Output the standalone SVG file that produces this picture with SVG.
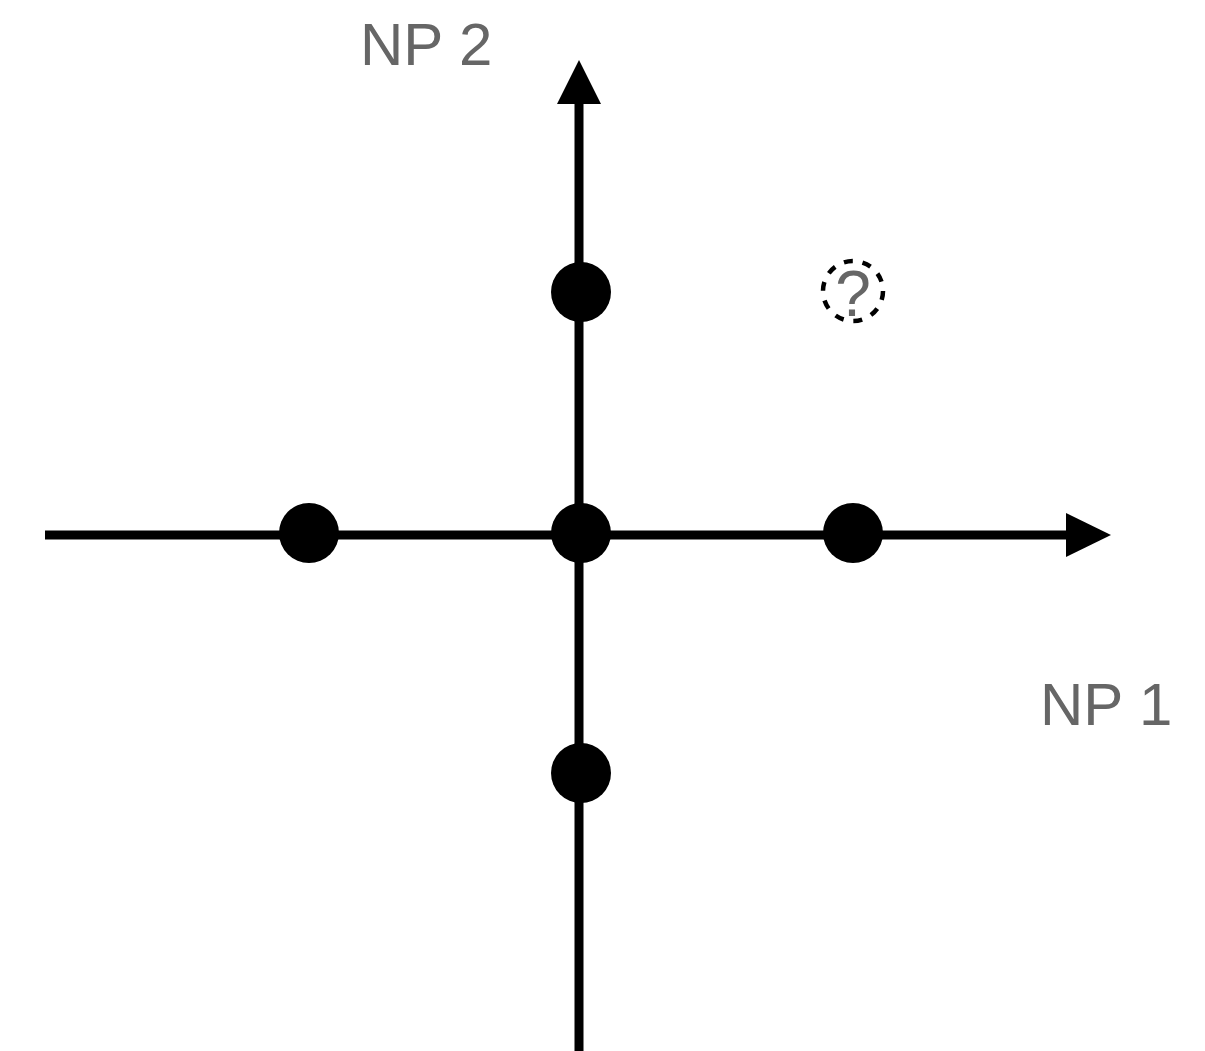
<svg xmlns="http://www.w3.org/2000/svg" width="1205" height="1051" viewBox="0 0 1205 1051">
<style>
.axis{stroke:#000;stroke-width:9;fill:none}
.dot{fill:#000}
.lbl{font-family:"Liberation Sans",Arial,sans-serif;font-size:60px;fill:#666}
</style>
<rect width="1205" height="1051" fill="#fff"/>
<g id="connectors">
<line class="axis" x1="45" y1="535" x2="1068" y2="535"/>
<polygon points="1066,513 1111,535 1066,557" fill="#000"/>
<line class="axis" x1="579" y1="1051" x2="579" y2="100"/>
<polygon points="557,104 579,60 601,104" fill="#000"/>
</g>
<g id="dot-left"><circle class="dot" cx="309" cy="533" r="30"/></g>
<g id="dot-center"><circle class="dot" cx="581" cy="533" r="30"/></g>
<g id="dot-right"><circle class="dot" cx="853" cy="533" r="30"/></g>
<g id="dot-top"><circle class="dot" cx="581" cy="292" r="30"/></g>
<g id="dot-bottom"><circle class="dot" cx="581" cy="773" r="30"/></g>
<g id="unknown">
<circle cx="853" cy="291" r="30" fill="none" stroke="#000" stroke-width="4.5" stroke-dasharray="9 9.85"/>
<text x="853" y="316" text-anchor="middle" class="lbl" style="font-size:64px">?</text>
</g>
<g id="label-np2"><text class="lbl" x="360" y="65">NP 2</text></g>
<g id="label-np1"><text class="lbl" x="1040" y="725">NP 1</text></g>
</svg>
